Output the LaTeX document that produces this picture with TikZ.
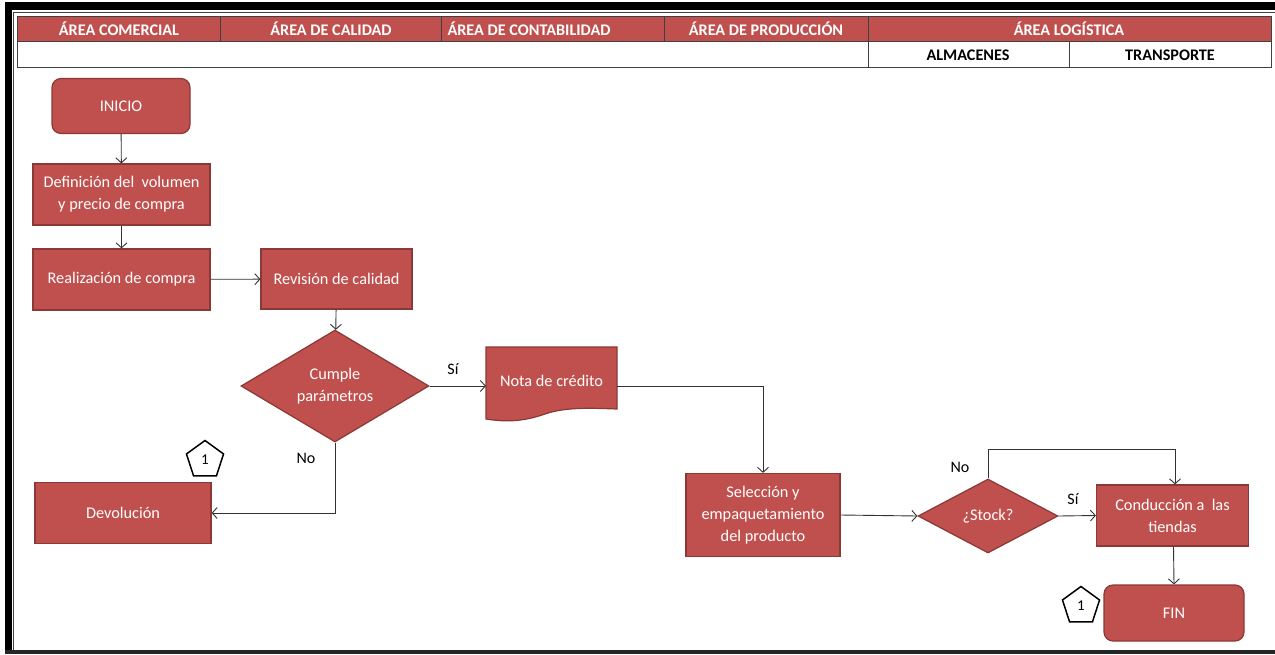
\documentclass[tikz,border=0pt]{standalone}
\usepackage{fontspec}
\setmainfont{Carlito}
\usetikzlibrary{shapes.geometric,arrows.meta}
\definecolor{boxred}{RGB}{192,80,77}
\definecolor{boxedge}{RGB}{140,56,54}
\definecolor{rule}{RGB}{64,64,64}
\tikzset{
  base/.style={fill=boxred, draw=boxedge, line width=1.2pt, text=white,
    align=center, font=\fontsize{16.3}{22}\selectfont, inner sep=2pt},
  proc/.style={base, rectangle},
  term/.style={base, rectangle, rounded corners=9pt},
  decide/.style={base, diamond, aspect=1.7, inner sep=0pt},
  conn/.style={draw=black!80, line width=0.9pt},
  flow/.style={conn, -{Straight Barb[length=5pt,width=11pt]}},
  tag/.style={font=\fontsize{16}{18}\selectfont, text=black},
  offpage/.style={regular polygon, regular polygon sides=5, draw=black,
    line width=1.5pt, fill=white, minimum size=39pt, inner sep=0pt,
    font=\fontsize{15}{17}\selectfont},
  headtxt/.style={font=\bfseries\fontsize{16.2}{18}\selectfont, text=white},
  subtxt/.style={font=\bfseries\fontsize{16.2}{18}\selectfont, text=black}
}
\begin{document}
\begin{tikzpicture}[x=1pt, y=-1pt]
\useasboundingbox (0,0) rectangle (1275,654);
\fill[white] (0,0) rectangle (1275,654);
% outer frame
\fill[black] (5,2) rectangle (1275,10);
\fill[black] (5,2) rectangle (12,654);
\draw[rule, line width=1pt] (13,12) -- (1275,12);
\draw[rule, line width=1pt] (13,12) -- (13,651);
\fill[black!85] (5,650) rectangle (1275,654);

% header table
\fill[boxred] (17,16) rectangle (1271,41);
\draw[rule, line width=1pt] (17,16) rectangle (1271,67);
\draw[rule, line width=0.8pt] (17,41) -- (1271,41);
\foreach \xx in {220,441,664,868} \draw[rule, line width=0.8pt] (\xx,16) -- (\xx,41);
\draw[rule, line width=0.8pt] (868,41) -- (868,67);
\draw[rule, line width=0.8pt] (1069,41) -- (1069,67);
\node[headtxt] (h1) at (119,29) {ÁREA COMERCIAL};
\node[headtxt] (h2) at (331,29) {ÁREA DE CALIDAD};
\node[headtxt, anchor=west] (h3) at (444,29) {ÁREA DE CONTABILIDAD};
\node[headtxt] (h4) at (766,29) {ÁREA DE PRODUCCIÓN};
\node[headtxt] (h5) at (1069,29) {ÁREA LOGÍSTICA};
\node[subtxt] (s1) at (968,55) {ALMACENES};
\node[subtxt] (s2) at (1170,55) {TRANSPORTE};

% process steps
\node[term, minimum width=138pt, minimum height=55pt] (ini) at (121,106) {INICIO};
\node[proc, minimum width=177pt, minimum height=61pt] (def) at (121.5,194.5) {Definición del\ \ volumen\\y precio de compra};
\node[proc, minimum width=177pt, minimum height=61pt] (rea) at (121.5,279.5) {Realización de compra};
\node[proc, minimum width=151pt, minimum height=60pt] (rev) at (336.5,279) {Revisión de calidad};
\node[decide, minimum width=188pt, minimum height=112pt] (cum) at (335,386) {Cumple\\parámetros};
% document shape with wavy lower edge
\path[base] (486,347) -- (617,347) -- (617,409)
  .. controls (590,408) and (565,407) .. (545,414)
  .. controls (522,422) and (505,422) .. (486,419) -- cycle;
\node[text=white, font=\fontsize{16.3}{22}\selectfont] (nota) at (551.5,381) {Nota de crédito};
\coordinate (notaE) at (617,386);
\coordinate (notaW) at (486,386);
\node[proc, minimum width=176pt, minimum height=61pt] (dev) at (123,513) {Devolución};
\node[proc, minimum width=154pt, minimum height=83pt] (sel) at (763,515) {Selección y\\empaquetamiento\\del producto};
\node[decide, minimum width=140pt, minimum height=74pt] (stk) at (988,516) {¿Stock?};
\node[proc, minimum width=152pt, minimum height=61pt] (con) at (1172.5,515.5) {Conducción a\ \ las\\tiendas};
\node[term, minimum width=140pt, minimum height=56pt] (fin) at (1174,613) {FIN};

% connectors
\draw[flow] (ini) -- (def);
\draw[flow] (def) -- (rea);
\draw[flow] (rea) -- (rev);
\draw[flow] (rev) -- (cum);
\draw[flow] (cum.east) -- (notaW);
\node[tag] (si1) at (453,369) {Sí};
\draw[flow] (cum.south) |- (dev.east);
\node[tag] (no1) at (306,458) {No};
\draw[flow] (notaE) -| (sel.north);
\draw[flow] (sel.east) -- (stk.west);
\draw[flow] (stk.east) -- (con.west);
\node[tag] (si2) at (1073,499) {Sí};
\coordinate (loop) at (988,449);
\draw[flow] (stk.north) -- (loop) -| ([xshift=2.5pt]con.north);
\node[tag] (no2) at (960,467) {No};
\draw[flow] ([xshift=1pt]con.south) -- ([xshift=0pt]fin.north);

% off-page connectors
\node[offpage] (p1) at (205,460) {1};
\node[offpage] (p2) at (1081,606) {1};
\end{tikzpicture}
\end{document}
